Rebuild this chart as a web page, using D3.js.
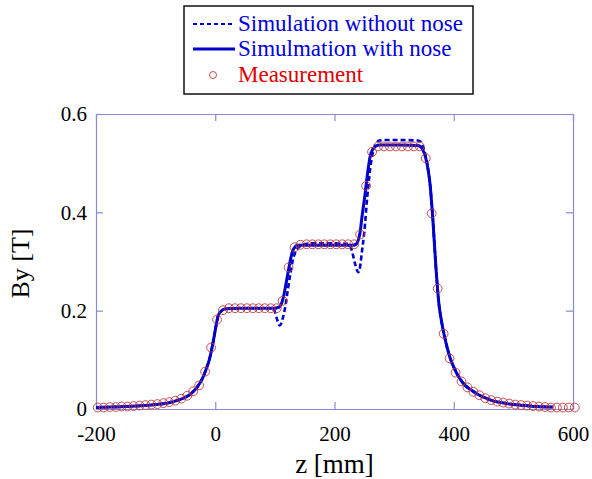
<!DOCTYPE html>
<html>
<head>
<meta charset="utf-8">
<script src="https://cdn.jsdelivr.net/npm/d3@7"></script>
<style>
  body { margin: 0; background: #fff; }
  svg { display: block; font-family: "Liberation Serif", "Times New Roman", serif; }
</style>
</head>
<body>
<svg id="chart" width="592" height="479"></svg>
<script>
// simulation grid (z in mm) and the two simulated field curves
const zSim = [-200, -175, -150, -125, -100, -80, -60, -50, -40, -30, -20, -15, -10, -5, 0, 3, 5, 10, 15, 20,
  40, 60, 80, 95, 100, 104, 108, 111, 114, 118, 122, 126, 130, 134, 138, 145, 160, 190, 220, 226, 230, 235,
  240, 243, 246, 250, 255, 260, 265, 270, 275, 285, 310, 340, 345, 350, 355, 360, 365, 370, 375, 380, 385,
  390, 395, 400, 410, 420, 430, 440, 450, 460, 470, 480, 500, 520, 540, 567];

const byWithNose = [0.003, 0.004, 0.005, 0.0065, 0.009, 0.012, 0.019, 0.024, 0.032, 0.045, 0.066, 0.082, 0.100, 0.127, 0.160, 0.180, 0.190, 0.199, 0.203, 0.204,
  0.205, 0.205, 0.205, 0.205, 0.205, 0.206, 0.208, 0.214, 0.226, 0.250, 0.277, 0.303, 0.322, 0.330, 0.333, 0.333, 0.333, 0.333, 0.333, 0.333, 0.333, 0.334,
  0.344, 0.360, 0.390, 0.425, 0.475, 0.515, 0.530, 0.535, 0.537, 0.537, 0.537, 0.536, 0.533, 0.522, 0.500, 0.460, 0.385, 0.290, 0.215, 0.175, 0.145,
  0.120, 0.100, 0.085, 0.062, 0.047, 0.038, 0.030, 0.024, 0.019, 0.015, 0.013, 0.009, 0.007, 0.005, 0.004];

const byWithoutNose = [0.003, 0.004, 0.005, 0.0065, 0.009, 0.012, 0.019, 0.024, 0.032, 0.045, 0.066, 0.082, 0.100, 0.127, 0.160, 0.180, 0.190, 0.199, 0.203, 0.204,
  0.205, 0.205, 0.205, 0.205, 0.198, 0.181, 0.170, 0.175, 0.188, 0.212, 0.245, 0.275, 0.302, 0.318, 0.326, 0.333, 0.337, 0.337, 0.336, 0.333, 0.318, 0.293,
  0.278, 0.290, 0.320, 0.360, 0.432, 0.490, 0.525, 0.540, 0.546, 0.547, 0.547, 0.546, 0.543, 0.528, 0.502, 0.460, 0.385, 0.290, 0.215, 0.175, 0.145,
  0.120, 0.100, 0.085, 0.062, 0.047, 0.038, 0.030, 0.024, 0.019, 0.015, 0.013, 0.009, 0.007, 0.005, 0.004];

// measured points
const zMeas = [-197, -187, -177, -167, -157, -147, -137, -127, -117, -107, -97, -87, -77, -67, -57, -47, -37, -27, -17, -7,
  3, 13, 23, 33, 43, 53, 63, 73, 83, 93, 103, 113, 123, 133, 143, 153, 163, 173, 183, 193,
  203, 213, 223, 233, 243, 253, 263, 273, 283, 293, 303, 313, 323, 333, 343, 353, 363, 373, 383, 393,
  403, 413, 423, 433, 443, 453, 463, 473, 483, 493, 503, 513, 523, 533, 543, 553, 563, 573, 583, 593, 603];

const byMeas = [0.003, 0.003, 0.004, 0.004, 0.005, 0.005, 0.006, 0.007, 0.008, 0.009, 0.010, 0.012, 0.014, 0.017, 0.021, 0.027, 0.036, 0.048, 0.076, 0.125,
  0.182, 0.201, 0.205, 0.205, 0.205, 0.205, 0.205, 0.205, 0.205, 0.205, 0.205, 0.220, 0.288, 0.329, 0.334, 0.335, 0.335, 0.335, 0.335, 0.335,
  0.335, 0.335, 0.335, 0.335, 0.355, 0.454, 0.523, 0.534, 0.534, 0.534, 0.534, 0.534, 0.534, 0.534, 0.534, 0.510, 0.398, 0.245, 0.153, 0.103,
  0.074, 0.056, 0.044, 0.035, 0.028, 0.022, 0.018, 0.015, 0.013, 0.011, 0.009, 0.008, 0.007, 0.006, 0.005, 0.004, 0.003, 0.003, 0.003, 0.003, 0.003];

const xTicks = [-200, 0, 200, 400, 600];
const yTicks = [0, 0.2, 0.4, 0.6];
const legendLabels = ["Simulation without nose", "Simulmation with nose", "Measurement"];

const frameColor = "#8a8ad0";
const lineColor = "#0000cc";
const markColor = "#c0393b";

const svg = d3.select("#chart");
const plotLeft = 96, plotRight = 573, plotTop = 114, plotBottom = 409;

const x = d3.scaleLinear().domain([-200, 600]).range([plotLeft, plotRight]);
const y = d3.scaleLinear().domain([0, 0.6]).range([plotBottom, plotTop]);

// axes with inward ticks
const styleAxis = (g) => {
  g.selectAll("path, line").attr("stroke", frameColor).attr("stroke-width", 1.2);
  g.selectAll("text").attr("fill", "#000").style("font-size", "21px")
    .style("font-family", '"Liberation Serif", "Times New Roman", serif');
};

svg.append("g").attr("transform", `translate(0,${plotBottom})`)
  .call(d3.axisBottom(x).tickValues(xTicks).tickSize(-7).tickSizeOuter(0).tickPadding(17).tickFormat((d) => String(d)))
  .call(styleAxis);
svg.append("g").attr("transform", `translate(0,${plotTop})`)
  .call(d3.axisTop(x).tickValues(xTicks).tickSize(-7).tickSizeOuter(0).tickFormat(""))
  .call(styleAxis);
svg.append("g").attr("transform", `translate(${plotLeft},0)`)
  .call(d3.axisLeft(y).tickValues(yTicks).tickSize(-7).tickSizeOuter(0).tickPadding(9).tickFormat((d) => d === 0 ? "0" : d3.format(".1f")(d)))
  .call(styleAxis);
svg.append("g").attr("transform", `translate(${plotRight},0)`)
  .call(d3.axisRight(y).tickValues(yTicks).tickSize(-7).tickSizeOuter(0).tickFormat(""))
  .call(styleAxis);

// axis titles
svg.append("text")
  .attr("x", (plotLeft + plotRight) / 2).attr("y", 473)
  .attr("text-anchor", "middle").style("font-size", "27px").text("z [mm]");
svg.append("text")
  .attr("transform", `translate(29,${(plotTop + plotBottom) / 2 + 2}) rotate(-90)`)
  .attr("text-anchor", "middle").style("font-size", "26px").text("By [T]");

// curves
const line = d3.line().x((d) => x(d[0])).y((d) => y(d[1])).curve(d3.curveMonotoneX);

svg.append("path")
  .attr("d", line(d3.zip(zSim, byWithoutNose)))
  .attr("fill", "none").attr("stroke", lineColor).attr("stroke-width", 2.6)
  .attr("stroke-dasharray", "5,3");

svg.append("path")
  .attr("d", line(d3.zip(zSim, byWithNose)))
  .attr("fill", "none").attr("stroke", lineColor).attr("stroke-width", 3);

svg.append("g").selectAll("circle")
  .data(d3.zip(zMeas, byMeas))
  .join("circle")
  .attr("cx", (d) => x(d[0])).attr("cy", (d) => y(d[1])).attr("r", 4.4)
  .attr("fill", "none").attr("stroke", markColor).attr("stroke-width", 0.9);

// legend
const legend = svg.append("g");
legend.append("rect")
  .attr("x", 184).attr("y", 6).attr("width", 289).attr("height", 88)
  .attr("fill", "#fff").attr("stroke", "#111").attr("stroke-width", 1.5);

const rows = [24, 49, 75];
legend.append("line").attr("x1", 193).attr("x2", 235).attr("y1", rows[0]).attr("y2", rows[0])
  .attr("stroke", lineColor).attr("stroke-width", 2).attr("stroke-dasharray", "4,3");
legend.append("line").attr("x1", 193).attr("x2", 235).attr("y1", rows[1]).attr("y2", rows[1])
  .attr("stroke", lineColor).attr("stroke-width", 3);
legend.append("circle").attr("cx", 213).attr("cy", rows[2]).attr("r", 3.5)
  .attr("fill", "none").attr("stroke", markColor).attr("stroke-width", 0.9);

legendLabels.forEach((label, i) => {
  legend.append("text")
    .attr("x", 238).attr("y", rows[i] + 7)
    .style("font-size", "23px")
    .attr("fill", i < 2 ? "#0000dd" : "#dd0000")
    .text(label);
});
</script>
</body>
</html>
